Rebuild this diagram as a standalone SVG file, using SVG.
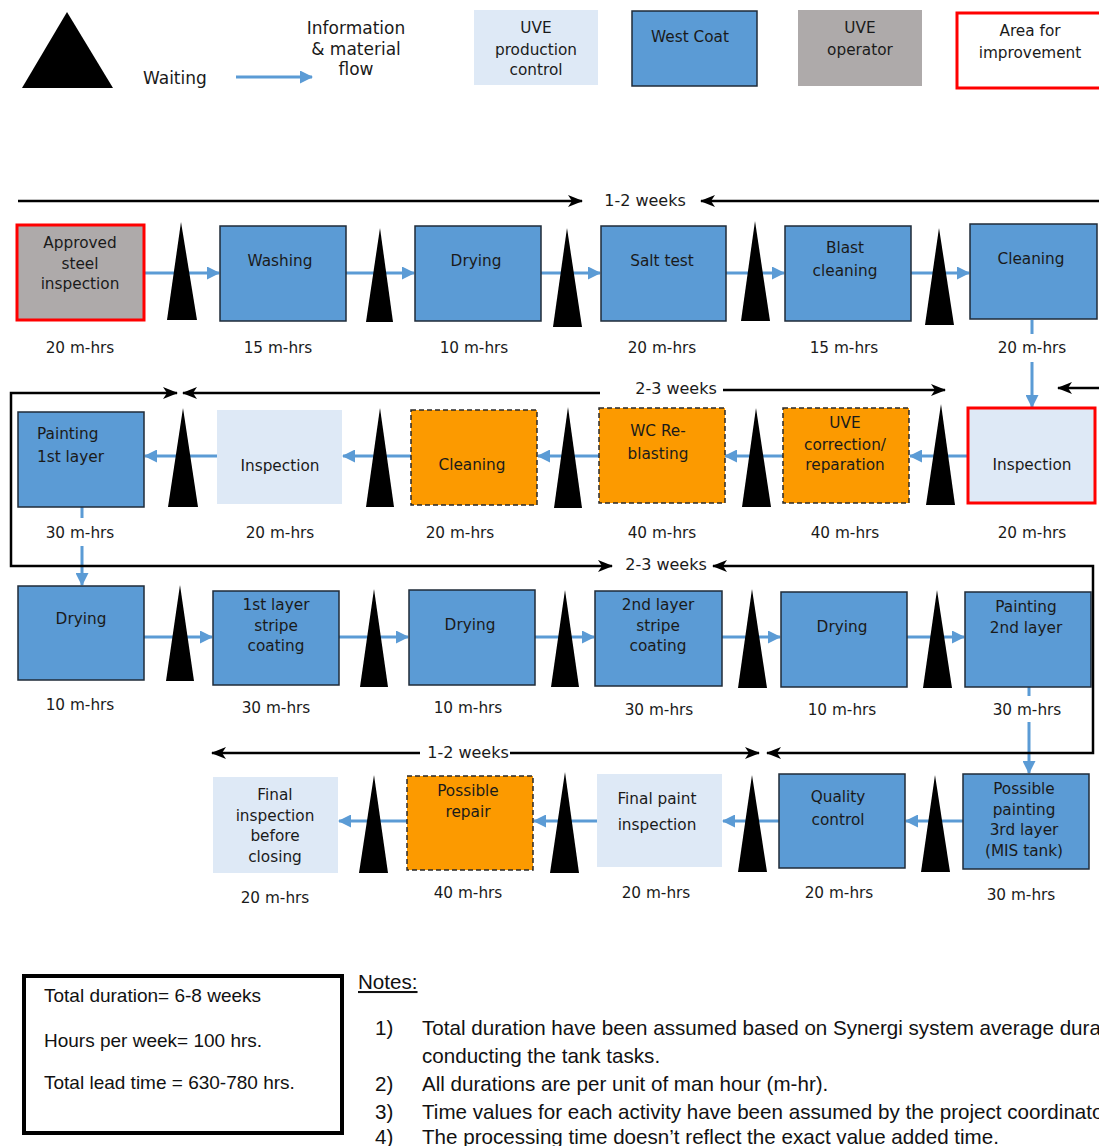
<svg xmlns="http://www.w3.org/2000/svg" width="1099" height="1146" viewBox="0 0 1099 1146">
  <style>
    text { font-family: "DejaVu Sans", Verdana, sans-serif; font-size: 15.3px; fill: #1a1a1a; }
    .c { text-anchor: middle; }
    .lg { font-size: 17px; }
    .wk { font-size: 16px; }
    .wc { fill: #5b9bd5; stroke: #1f2b38; stroke-width: 1.5; }
    .pc { fill: #dee9f6; }
    .op { fill: #aeaaaa; }
    .imp { stroke: #ff0000; stroke-width: 3; }
    .fix { fill: #fc9a00; stroke: #2a2a2a; stroke-width: 1.5; stroke-dasharray: 5 3; }
    .flow { fill: none; stroke: #5b9bd5; stroke-width: 3; marker-end: url(#bh); }
    .span { fill: none; stroke: #000; stroke-width: 2.5; marker-end: url(#kh); }
    .wait { fill: #000; }
    .note { font-family: "Liberation Sans", Arial, sans-serif; font-size: 20.6px; fill: #111; }
    .tot { font-family: "Liberation Sans", Arial, sans-serif; font-size: 19px; fill: #111; }
  </style>
  <defs>
    <marker id="bh" markerUnits="userSpaceOnUse" markerWidth="13" markerHeight="13" refX="12" refY="6.5" orient="auto">
      <path d="M0,0 L13,6.5 L0,13 z" fill="#5b9bd5"/>
    </marker>
    <marker id="kh" markerUnits="userSpaceOnUse" markerWidth="15" markerHeight="12" refX="14" refY="6" orient="auto-start-reverse">
      <path d="M0,0 L15,6 L0,12 L4,6 z" fill="#000"/>
    </marker>
  </defs>
  <rect width="1099" height="1146" fill="#fff"/>

  <!-- Legend -->
  <g id="legend">
    <polygon class="wait" points="22,88 113,88 67,12"/>
    <text class="lg" x="143" y="84">Waiting</text>
    <line x1="236" y1="77" x2="312" y2="77" class="flow"/>
    <text class="c lg" x="356" y="34">Information</text>
    <text class="c lg" x="356" y="55">&amp; material</text>
    <text class="c lg" x="356" y="75">flow</text>
    <rect class="pc" x="474" y="10" width="124" height="75"/>
    <text class="c" x="536" y="33">UVE</text>
    <text class="c" x="536" y="55">production</text>
    <text class="c" x="536" y="75">control</text>
    <rect class="wc" x="632" y="11" width="125" height="75"/>
    <text class="c" x="690" y="42">West Coat</text>
    <rect class="op" x="798" y="10" width="124" height="76"/>
    <text class="c" x="860" y="33">UVE</text>
    <text class="c" x="860" y="55">operator</text>
    <rect x="957" y="13" width="150" height="75" fill="#fff" class="imp"/>
    <text class="c" x="1030" y="36">Area for</text>
    <text class="c" x="1030" y="58">improvement</text>
  </g>

  <!-- Connectors: material flow and time spans -->
  <g id="connectors">
    <path class="flow" d="M144,273 H219"/>
    <path class="flow" d="M346,273 H414"/>
    <path class="flow" d="M541,273 H600"/>
    <path class="flow" d="M726,273 H784"/>
    <path class="flow" d="M911,273 H969"/>
    <path class="flow" d="M1032,320 V334 M1032,362 V407"/>
    <path class="flow" d="M968,456 H910"/>
    <path class="flow" d="M783,456 H725"/>
    <path class="flow" d="M599,456 H538"/>
    <path class="flow" d="M411,456 H343"/>
    <path class="flow" d="M217,456 H145"/>
    <path class="flow" d="M82,507 V518 M82,546 V585"/>
    <path class="flow" d="M144,637 H212"/>
    <path class="flow" d="M339,637 H408"/>
    <path class="flow" d="M535,637 H594"/>
    <path class="flow" d="M722,637 H780"/>
    <path class="flow" d="M907,637 H964"/>
    <path class="flow" d="M1029,687 V696 M1029,722 V773"/>
    <path class="flow" d="M963,821 H906"/>
    <path class="flow" d="M779,821 H723"/>
    <path class="flow" d="M597,821 H534"/>
    <path class="flow" d="M407,821 H339"/>

    <path class="span" d="M18,201 H582"/>
    <path class="span" d="M1099,201 H701"/>
    <path class="span" d="M600,393 H183"/>
    <path class="span" style="marker-start:url(#kh)" d="M177,393 H11 V566 H612"/>
    <path class="span" d="M723,390 H945"/>
    <path class="span" d="M1099,388 H1058"/>
    <path class="span" style="marker-start:url(#kh)" d="M713,566 H1093 V753 H767"/>
    <path class="span" d="M420,753 H212"/>
    <path class="span" d="M510,753 H759"/>
    <text class="c wk" x="645" y="206">1-2 weeks</text>
    <text class="c wk" x="676" y="394">2-3 weeks</text>
    <text class="c wk" x="666" y="570">2-3 weeks</text>
    <text class="c wk" x="468" y="758">1-2 weeks</text>
  </g>

  <!-- Waiting points -->
  <g id="waits">
    <polygon class="wait" points="167,320 197,320 181,222"/>
    <polygon class="wait" points="366,322 393,322 380,228"/>
    <polygon class="wait" points="553,327 582,327 567,228"/>
    <polygon class="wait" points="741,321 770,321 755,221"/>
    <polygon class="wait" points="925,325 954,325 939,228"/>
    <polygon class="wait" points="168,507 198,507 183,408"/>
    <polygon class="wait" points="366,507 394,507 380,408"/>
    <polygon class="wait" points="554,508 582,508 568,407"/>
    <polygon class="wait" points="742,507 771,507 756,408"/>
    <polygon class="wait" points="926,505 955,505 941,404"/>
    <polygon class="wait" points="166,681 194,681 180,585"/>
    <polygon class="wait" points="360,687 388,687 374,589"/>
    <polygon class="wait" points="551,687 579,687 565,590"/>
    <polygon class="wait" points="738,688 767,688 752,589"/>
    <polygon class="wait" points="923,688 952,688 937,590"/>
    <polygon class="wait" points="359,873 388,873 374,775"/>
    <polygon class="wait" points="550,873 579,873 565,772"/>
    <polygon class="wait" points="738,872 767,872 752,775"/>
    <polygon class="wait" points="921,872 950,872 935,775"/>
  </g>

  <!-- Row 1 -->
  <g id="approved-steel-inspection">
    <rect class="op imp" x="17" y="225" width="127" height="95"/>
    <text class="c" x="80" y="248">Approved</text>
    <text class="c" x="80" y="269">steel</text>
    <text class="c" x="80" y="289">inspection</text>
    <text class="c" x="80" y="353">20 m-hrs</text>
  </g>
  <g id="washing">
    <rect class="wc" x="220" y="226" width="126" height="95"/>
    <text class="c" x="280" y="266">Washing</text>
    <text class="c" x="278" y="353">15 m-hrs</text>
  </g>
  <g id="drying-1">
    <rect class="wc" x="415" y="226" width="126" height="95"/>
    <text class="c" x="476" y="266">Drying</text>
    <text class="c" x="474" y="353">10 m-hrs</text>
  </g>
  <g id="salt-test">
    <rect class="wc" x="601" y="226" width="125" height="95"/>
    <text class="c" x="662" y="266">Salt test</text>
    <text class="c" x="662" y="353">20 m-hrs</text>
  </g>
  <g id="blast-cleaning">
    <rect class="wc" x="785" y="226" width="126" height="95"/>
    <text class="c" x="845" y="253">Blast</text>
    <text class="c" x="845" y="276">cleaning</text>
    <text class="c" x="844" y="353">15 m-hrs</text>
  </g>
  <g id="cleaning-1">
    <rect class="wc" x="970" y="224" width="127" height="95"/>
    <text class="c" x="1031" y="264">Cleaning</text>
    <text class="c" x="1032" y="353">20 m-hrs</text>
  </g>

  <!-- Row 2 -->
  <g id="inspection-1">
    <rect class="pc imp" x="968" y="408" width="127" height="95"/>
    <text class="c" x="1032" y="470">Inspection</text>
    <text class="c" x="1032" y="538">20 m-hrs</text>
  </g>
  <g id="uve-correction">
    <rect class="fix" x="783" y="408" width="126" height="95"/>
    <text class="c" x="845" y="428">UVE</text>
    <text class="c" x="845" y="450">correction/</text>
    <text class="c" x="845" y="470">reparation</text>
    <text class="c" x="845" y="538">40 m-hrs</text>
  </g>
  <g id="wc-reblasting">
    <rect class="fix" x="599" y="408" width="126" height="95"/>
    <text class="c" x="658" y="436">WC Re-</text>
    <text class="c" x="658" y="459">blasting</text>
    <text class="c" x="662" y="538">40 m-hrs</text>
  </g>
  <g id="cleaning-2">
    <rect class="fix" x="411" y="410" width="126" height="95"/>
    <text class="c" x="472" y="470">Cleaning</text>
    <text class="c" x="460" y="538">20 m-hrs</text>
  </g>
  <g id="inspection-2">
    <rect class="pc" x="217" y="410" width="125" height="94"/>
    <text class="c" x="280" y="471">Inspection</text>
    <text class="c" x="280" y="538">20 m-hrs</text>
  </g>
  <g id="painting-1st-layer">
    <rect class="wc" x="18" y="412" width="126" height="95"/>
    <text x="37" y="439">Painting</text>
    <text x="37" y="462">1st layer</text>
    <text class="c" x="80" y="538">30 m-hrs</text>
  </g>

  <!-- Row 3 -->
  <g id="drying-2">
    <rect class="wc" x="18" y="586" width="126" height="94"/>
    <text class="c" x="81" y="624">Drying</text>
    <text class="c" x="80" y="710">10 m-hrs</text>
  </g>
  <g id="stripe-coating-1">
    <rect class="wc" x="213" y="591" width="126" height="94"/>
    <text class="c" x="276" y="610">1st layer</text>
    <text class="c" x="276" y="631">stripe</text>
    <text class="c" x="276" y="651">coating</text>
    <text class="c" x="276" y="713">30 m-hrs</text>
  </g>
  <g id="drying-3">
    <rect class="wc" x="409" y="590" width="126" height="95"/>
    <text class="c" x="470" y="630">Drying</text>
    <text class="c" x="468" y="713">10 m-hrs</text>
  </g>
  <g id="stripe-coating-2">
    <rect class="wc" x="595" y="591" width="127" height="95"/>
    <text class="c" x="658" y="610">2nd layer</text>
    <text class="c" x="658" y="631">stripe</text>
    <text class="c" x="658" y="651">coating</text>
    <text class="c" x="659" y="715">30 m-hrs</text>
  </g>
  <g id="drying-4">
    <rect class="wc" x="781" y="592" width="126" height="95"/>
    <text class="c" x="842" y="632">Drying</text>
    <text class="c" x="842" y="715">10 m-hrs</text>
  </g>
  <g id="painting-2nd-layer">
    <rect class="wc" x="965" y="592" width="126" height="95"/>
    <text class="c" x="1026" y="612">Painting</text>
    <text class="c" x="1026" y="633">2nd layer</text>
    <text class="c" x="1027" y="715">30 m-hrs</text>
  </g>

  <!-- Row 4 -->
  <g id="painting-3rd-layer">
    <rect class="wc" x="963" y="774" width="126" height="95"/>
    <text class="c" x="1024" y="794">Possible</text>
    <text class="c" x="1024" y="815">painting</text>
    <text class="c" x="1024" y="835">3rd layer</text>
    <text class="c" x="1024" y="856">(MIS tank)</text>
    <text class="c" x="1021" y="900">30 m-hrs</text>
  </g>
  <g id="quality-control">
    <rect class="wc" x="779" y="774" width="126" height="94"/>
    <text class="c" x="838" y="802">Quality</text>
    <text class="c" x="838" y="825">control</text>
    <text class="c" x="839" y="898">20 m-hrs</text>
  </g>
  <g id="final-paint-inspection">
    <rect class="pc" x="597" y="774" width="125" height="93"/>
    <text class="c" x="657" y="804">Final paint</text>
    <text class="c" x="657" y="830">inspection</text>
    <text class="c" x="656" y="898">20 m-hrs</text>
  </g>
  <g id="possible-repair">
    <rect class="fix" x="407" y="776" width="126" height="94"/>
    <text class="c" x="468" y="796">Possible</text>
    <text class="c" x="468" y="817">repair</text>
    <text class="c" x="468" y="898">40 m-hrs</text>
  </g>
  <g id="final-inspection">
    <rect class="pc" x="213" y="777" width="125" height="96"/>
    <text class="c" x="275" y="800">Final</text>
    <text class="c" x="275" y="821">inspection</text>
    <text class="c" x="275" y="841">before</text>
    <text class="c" x="275" y="862">closing</text>
    <text class="c" x="275" y="903">20 m-hrs</text>
  </g>

  <!-- Totals -->
  <g id="totals">
    <rect x="24" y="976" width="318" height="157" fill="#fff" stroke="#000" stroke-width="4"/>
    <text class="tot" x="44" y="1002">Total duration= 6-8 weeks</text>
    <text class="tot" x="44" y="1047">Hours per week= 100 hrs.</text>
    <text class="tot" x="44" y="1089">Total lead time = 630-780 hrs.</text>
  </g>

  <!-- Notes -->
  <g id="notes">
    <text class="note" x="358" y="989" text-decoration="underline">Notes:</text>
    <text class="note" x="375" y="1035">1)</text>
    <text class="note" x="422" y="1035">Total duration have been assumed based on Synergi system average duration</text>
    <text class="note" x="422" y="1063">conducting the tank tasks.</text>
    <text class="note" x="375" y="1091">2)</text>
    <text class="note" x="422" y="1091">All durations are per unit of man hour (m-hr).</text>
    <text class="note" x="375" y="1119">3)</text>
    <text class="note" x="422" y="1119">Time values for each activity have been assumed by the project coordinator</text>
    <text class="note" x="375" y="1144">4)</text>
    <text class="note" x="422" y="1144">The processing time doesn’t reflect the exact value added time.</text>
  </g>
</svg>
